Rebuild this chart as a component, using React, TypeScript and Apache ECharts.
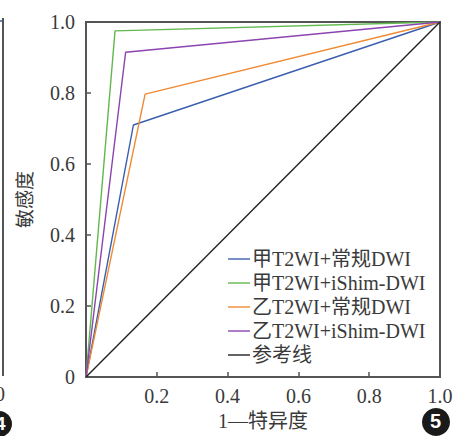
import React, { useEffect, useRef } from "react";
import * as echarts from "echarts";

const seriesNames = ["甲T2WI+常规DWI", "甲T2WI+iShim-DWI", "乙T2WI+常规DWI", "乙T2WI+iShim-DWI", "参考线"];
const seriesColors = ["#3b5fae", "#62b84f", "#ef8a34", "#8b44b0", "#222222"];
const jiaConventional: [number, number][] = [[0, 0], [0.134, 0.71], [1, 1]];
const jiaIShim: [number, number][] = [[0, 0], [0.082, 0.975], [1, 1]];
const yiConventional: [number, number][] = [[0, 0], [0.167, 0.797], [1, 1]];
const yiIShim: [number, number][] = [[0, 0], [0.112, 0.915], [1, 1]];
const reference: [number, number][] = [[0, 0], [1, 1]];
const seriesData = [jiaConventional, jiaIShim, yiConventional, yiIShim, reference];

const FONT = "'Liberation Serif', 'Times New Roman', 'Noto Sans CJK SC', serif";

export default function App() {
  const ref = useRef<HTMLDivElement>(null);
  useEffect(() => {
    if (!ref.current) return;
    const chart = echarts.init(ref.current, undefined, { renderer: "svg" });
    chart.setOption({
      animation: false,
      backgroundColor: "#ffffff",
      textStyle: { fontFamily: FONT },
      grid: { left: 86, top: 22, width: 354, height: 356, show: true, borderColor: "#555", borderWidth: 2, backgroundColor: "transparent" },
      legend: {
        orient: "vertical",
        left: 223,
        top: 244,
        itemWidth: 22,
        itemHeight: 14,
        itemGap: 4,
        icon: "path://M0,6 L22,6 L22,7.4 L0,7.4 Z",
        data: seriesNames,
        textStyle: { fontFamily: FONT, fontSize: 20, color: "#3a3a3a", padding: [0, 0, 0, -3] },
      },
      xAxis: {
        type: "value",
        min: 0,
        max: 1,
        interval: 0.2,
        name: "1—特异度",
        nameLocation: "middle",
        nameGap: 25,
        nameTextStyle: { fontFamily: FONT, fontSize: 20, color: "#3a3a3a" },
        axisLine: { show: true, lineStyle: { color: "#555", width: 2 } },
        axisTick: { show: true, inside: true, length: 5, lineStyle: { color: "#555", width: 1.5 } },
        axisLabel: { fontFamily: FONT, fontSize: 20, color: "#3a3a3a", margin: 9, formatter: (v: number) => (v === 0 ? "" : v.toFixed(1)) },
        splitLine: { show: false },
      },
      yAxis: {
        type: "value",
        min: 0,
        max: 1,
        interval: 0.2,
        name: "敏感度",
        nameLocation: "middle",
        nameGap: 51,
        nameRotate: 90,
        nameTextStyle: { fontFamily: FONT, fontSize: 19, color: "#3a3a3a" },
        axisLine: { show: true, lineStyle: { color: "#555", width: 2 } },
        axisTick: { show: true, inside: true, length: 5, lineStyle: { color: "#555", width: 1.5 } },
        axisLabel: { fontFamily: FONT, fontSize: 20, color: "#3a3a3a", margin: 11, formatter: (v: number) => (v === 0 ? "0" : v.toFixed(1)) },
        splitLine: { show: false },
      },
      series: seriesNames.map((name, i) => ({
        name,
        type: "line",
        data: seriesData[i],
        symbol: "none",
        lineStyle: { color: seriesColors[i], width: 1.4 },
        itemStyle: { color: seriesColors[i] },
      })),
      graphic: [
        { type: "line", shape: { x1: 3, y1: 18, x2: 3, y2: 376 }, style: { stroke: "#555", lineWidth: 2 } },
        { type: "line", shape: { x1: 0, y1: 21, x2: 2, y2: 21 }, style: { stroke: "#3b5fae", lineWidth: 1.5 } },
        { type: "text", left: -5, top: 384, style: { text: "0", font: `20px ${FONT}`, fill: "#3a3a3a" } },
        { type: "circle", shape: { cx: -1, cy: 424, r: 13 }, style: { fill: "#1a1a1a" } },
        { type: "text", left: -5, top: 414, style: { text: "4", font: `bold 19px Arial, sans-serif`, fill: "#fff" } },
        { type: "circle", shape: { cx: 436, cy: 422, r: 14 }, style: { fill: "#1a1a1a" } },
        { type: "text", left: 430, top: 411, style: { text: "5", font: `bold 20px Arial, sans-serif`, fill: "#fff" } },
      ],
    });
    return () => chart.dispose();
  }, []);
  return <div ref={ref} style={{ width: 459, height: 436, position: "absolute", left: 0, top: 0 }} />;
}
